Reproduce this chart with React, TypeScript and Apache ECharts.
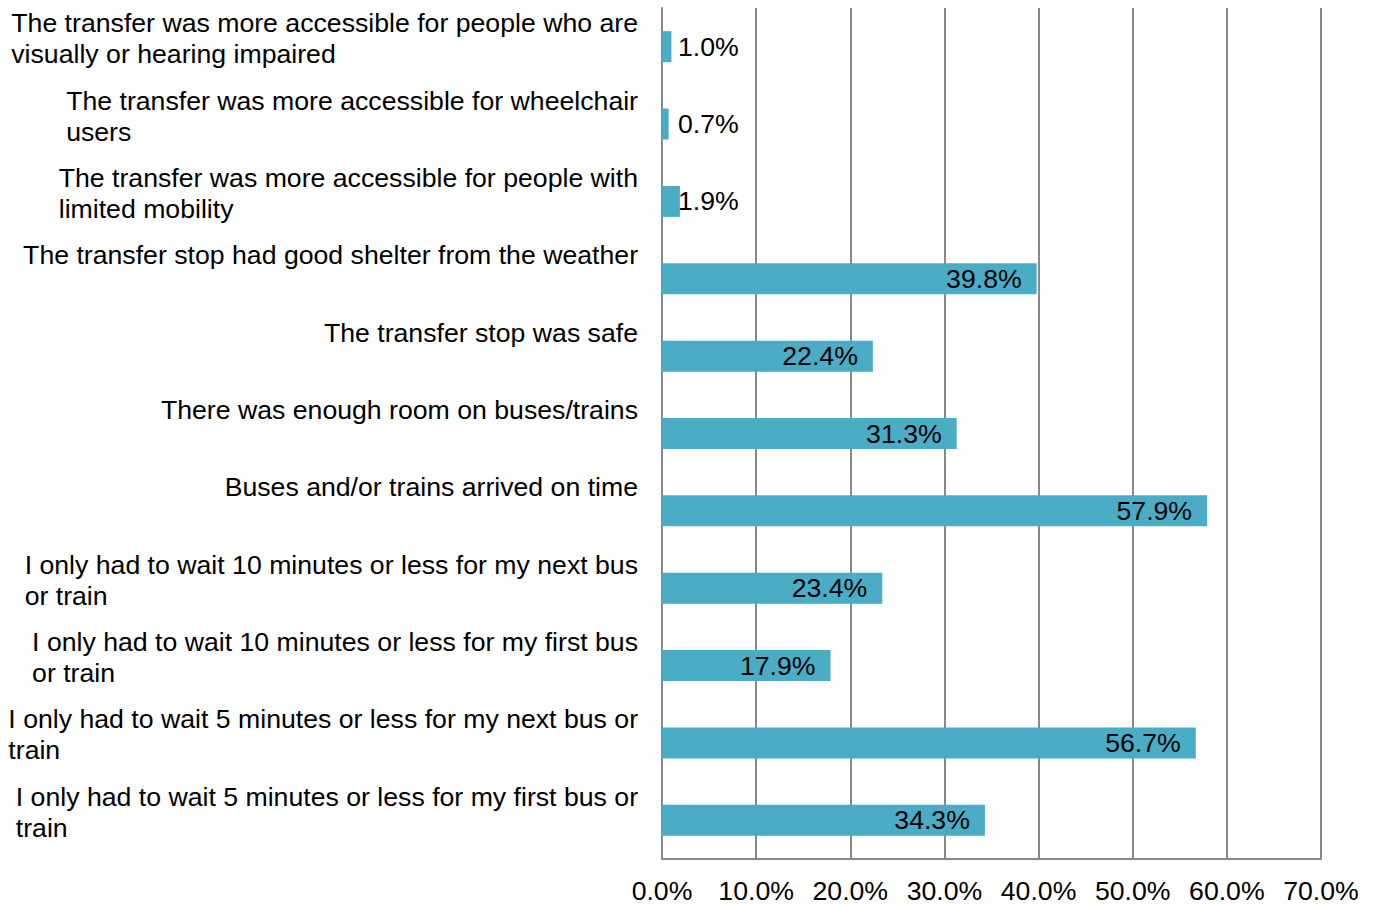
import React, { useEffect, useRef } from 'react';
import * as echarts from 'echarts';

const categories: string[] = [
  'The transfer was more accessible for people who are\nvisually or hearing impaired',
  'The transfer was more accessible for wheelchair\nusers',
  'The transfer was more accessible for people with\nlimited mobility',
  'The transfer stop had good shelter from the weather',
  'The transfer stop was safe',
  'There was enough room on buses/trains',
  'Buses and/or trains arrived on time',
  'I only had to wait 10 minutes or less for my next bus\nor train',
  'I only had to wait 10 minutes or less for my first bus\nor train',
  'I only had to wait 5 minutes or less for my next bus or\ntrain',
  'I only had to wait 5 minutes or less for my first bus or\ntrain',
];

const values: number[] = [1.0, 0.7, 1.9, 39.8, 22.4, 31.3, 57.9, 23.4, 17.9, 56.7, 34.3];

const xMin = 0;
const xMax = 70;
const xStep = 10;

const FONT = 'Arial, "Liberation Sans", sans-serif';
const FS = 26.67;
const GRID_COLOR = '#898989';
const BAR_COLOR = '#4BACC6';

export default function App() {
  const ref = useRef<HTMLDivElement>(null);

  useEffect(() => {
    document.body.style.margin = '0';
    const chart = echarts.init(ref.current as HTMLDivElement, null, { renderer: 'svg' });

    const data = values.map((v) => ({
      value: v,
      label:
        v < 5
          ? { position: 'insideLeft', distance: 16 }
          : { position: 'insideRight', distance: 15 },
    }));

    chart.setOption({
      animation: false,
      grid: { left: 662, right: 52, top: 8, bottom: 46, containLabel: false },
      xAxis: {
        type: 'value',
        min: xMin,
        max: xMax,
        interval: xStep,
        axisLine: { show: true, lineStyle: { color: GRID_COLOR, width: 2 } },
        axisTick: { show: false },
        splitLine: { show: true, lineStyle: { color: GRID_COLOR, width: 2 } },
        axisLabel: {
          formatter: (v: number) => v.toFixed(1) + '%',
          fontSize: FS,
          color: '#000',
          fontFamily: FONT,
          margin: 18,
        },
      },
      yAxis: {
        type: 'category',
        data: categories,
        inverse: true,
        axisLine: { show: true, lineStyle: { color: GRID_COLOR, width: 2 } },
        axisTick: { show: false },
        splitLine: { show: false },
        axisLabel: {
          interval: 0,
          margin: 24,
          align: 'right',
          verticalAlign: 'top',
          padding: [-39, 0, 0, 0],
          lineHeight: 31,
          fontSize: FS,
          color: '#000',
          fontFamily: FONT,
          formatter: (v: string) =>
            v
              .split('\n')
              .map((l) => `{a|${l}}`)
              .join('\n'),
          rich: {
            a: { align: 'left', fontSize: FS, lineHeight: 31, fontFamily: FONT, color: '#000' },
          },
        },
      },
      series: [
        {
          type: 'bar',
          data,
          barWidth: 31,
          itemStyle: { color: BAR_COLOR },
          label: {
            show: true,
            formatter: (p: any) => Number(p.value).toFixed(1) + '%',
            fontSize: FS,
            color: '#000',
            fontFamily: FONT,
          },
        },
      ],
    });

    return () => chart.dispose();
  }, []);

  return (
    <div
      ref={ref}
      style={{ position: 'absolute', left: 0, top: 0, width: 1373, height: 905 }}
    />
  );
}
